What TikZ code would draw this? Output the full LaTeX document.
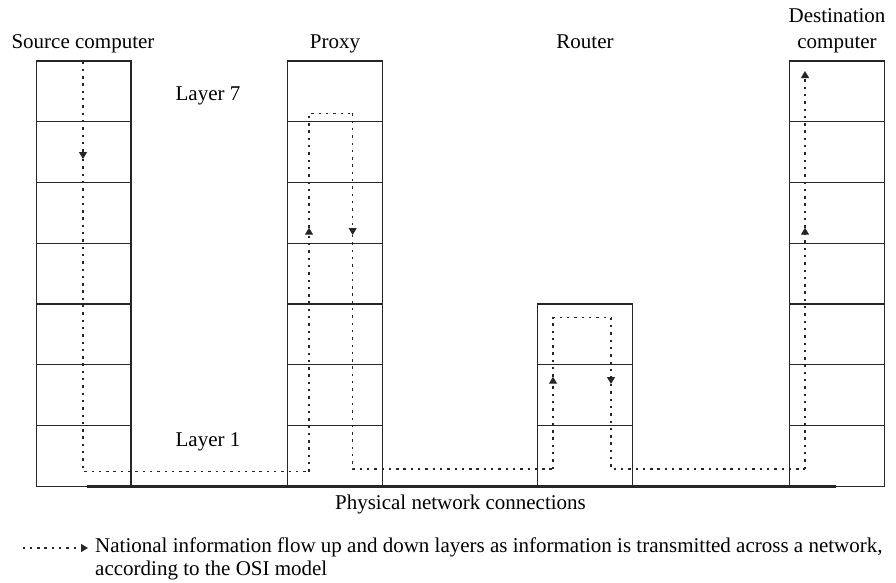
\documentclass[tikz,border=0pt]{standalone}
\usepackage{fontspec}
\setmainfont{Liberation Serif}
\usetikzlibrary{arrows.meta}
\begin{document}
\begin{tikzpicture}[x=1pt,y=-1pt,
  layerbox/.style={draw=black!85, line width=1.4pt, minimum width=94.6pt, minimum height=60.76pt, inner sep=0pt, outer sep=0pt},
  lbl/.style={anchor=base, inner sep=0pt, font=\fontsize{21}{25}\selectfont},
  flow/.style={line width=1.3pt, dash pattern=on 2.4pt off 4.9pt, black!85},
  tip/.style={-{Triangle[width=8pt,length=7pt]}}
]
\useasboundingbox (0,0) rectangle (896,582);
% stacks
\foreach \i in {1,...,7} {
  \node[layerbox] (s\i) at (83.5, {486.3-(\i-0.5)*60.76}) {};
  \node[layerbox] (p\i) at (335, {486.3-(\i-0.5)*60.76}) {};
  \node[layerbox] (d\i) at (836.9, {486.3-(\i-0.5)*60.76}) {};
}
\foreach \i in {1,...,3} {
  \node[layerbox] (r\i) at (585, {486.3-(\i-0.5)*60.76}) {};
}
% physical line
\coordinate (phl) at (87,486.3);
\coordinate (phr) at (835.5,486.3);
\draw[line width=2.6pt, black!85] (phl) -- (phr);
% labels
\node[lbl] (lsrc) at (83,48.7) {Source computer};
\node[lbl] (lprx) at (335,48.7) {Proxy};
\node[lbl] (lrtr) at (585,48.7) {Router};
\node[lbl] (ldst1) at (837,22.7) {Destination};
\node[lbl] (ldst2) at (837,48.7) {computer};
\node[lbl] (l7) at (208,100) {Layer 7};
\node[lbl] (l1) at (208,446.7) {Layer 1};
\node[lbl] (lphy) at (460.5,509.3) {Physical network connections};
\node[lbl, anchor=base west] (leg1) at (95,552.7) {National information flow up and down layers as information is transmitted across a network,};
\node[lbl, anchor=base west] (leg2) at (95,575.3) {according to the OSI model};
% flow coordinates
\coordinate (f0) at (83,61.5);
\coordinate (f1) at (83,159);
\coordinate (f2) at (83,471.7);
\coordinate (f3) at (309,471.7);
\coordinate (f4) at (309,227.7);
\coordinate (f5) at (309,113.3);
\coordinate (f6) at (352.7,113.3);
\coordinate (f7) at (352.7,235);
\coordinate (f8) at (352.7,469);
\coordinate (f9) at (553,469);
\coordinate (f10) at (553,376.7);
\coordinate (f11) at (553,317.7);
\coordinate (f12) at (611,317.7);
\coordinate (f13) at (611,384);
\coordinate (f14) at (611,469);
\coordinate (f15) at (805,469);
\coordinate (f16) at (805,227.7);
\coordinate (f17) at (805,71);
\draw[flow,tip] (f0) -- (f1);
\draw[flow] (f1) -- (f2) -- (f3);
\draw[flow,tip] (f3) -- (f4);
\draw[flow] (f4) -- (f5) -- (f6);
\draw[flow,tip] (f6) -- (f7);
\draw[flow] (f7) -- (f8) -- (f9);
\draw[flow,tip] (f9) -- (f10);
\draw[flow] (f10) -- (f11) -- (f12);
\draw[flow,tip] (f12) -- (f13);
\draw[flow] (f13) -- (f14) -- (f15);
\draw[flow,tip] (f15) -- (f16);
\draw[flow,tip] (f16) -- (f17);
% legend
\coordinate (g0) at (22.5,548);
\coordinate (g1) at (88,548);
\draw[flow,tip] (g0) -- (g1);
\end{tikzpicture}
\end{document}
